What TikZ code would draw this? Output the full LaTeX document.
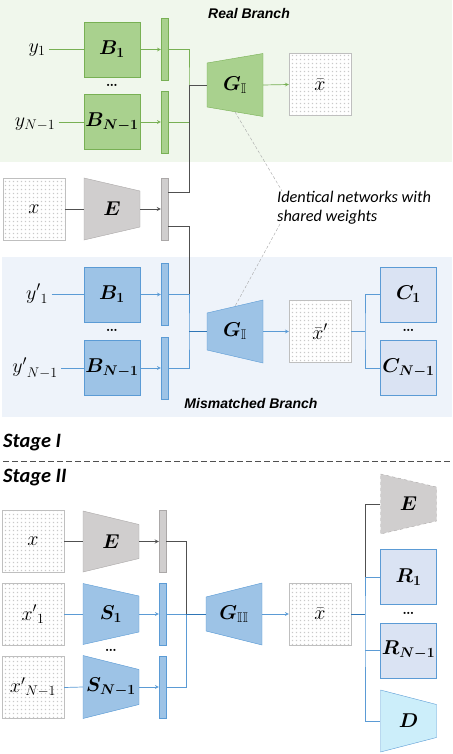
\RequirePackage{fix-cm}
\documentclass[tikz,border=0pt]{standalone}
\usepackage{amsmath,amssymb}
\usepackage{bm}
\usepackage{fontspec}
\newfontfamily\arialf{Liberation Sans}
\newfontfamily\calf{Carlito}
\usetikzlibrary{patterns,calc}

\definecolor{greenbg}{RGB}{240,247,236}
\definecolor{bluebg}{RGB}{238,243,250}
\definecolor{gfill}{RGB}{169,209,142}
\definecolor{gdraw}{RGB}{120,176,84}
\definecolor{bfill}{RGB}{157,195,230}
\definecolor{bdraw}{RGB}{91,155,213}
\definecolor{bdark}{RGB}{46,117,182}
\definecolor{kfill}{RGB}{208,206,206}
\definecolor{kdraw}{RGB}{171,168,168}
\definecolor{kdark}{RGB}{80,80,80}
\definecolor{cfill}{RGB}{218,227,243}
\definecolor{dfill}{RGB}{204,238,250}

\pgfdeclarepatternformonly{imgdots}{\pgfpointorigin}{\pgfpoint{3.5pt}{3.5pt}}{\pgfpoint{3.5pt}{3.5pt}}{%
  \pgfpathrectangle{\pgfpoint{0.9pt}{0.9pt}}{\pgfpoint{1.6pt}{1.6pt}}%
  \pgfusepath{fill}}

\tikzset{
  lab/.style={font=\fontsize{20}{22}\selectfont},
  img/.style={draw=gray!50,preaction={fill=white},pattern=imgdots,pattern color=gray!42,
    minimum width=62,minimum height=62,inner sep=0,lab},
  gbox/.style={draw=gdraw,fill=gfill,minimum width=56,minimum height=55,inner sep=0,lab},
  bbox/.style={draw=bdraw,fill=bfill,minimum width=56,minimum height=55,inner sep=0,lab},
  cbox/.style={draw=bdraw,fill=cfill,minimum width=56,minimum height=55,inner sep=0,lab},
  gbar/.style={draw=gdraw,fill=gfill,minimum width=7,minimum height=62,inner sep=0},
  bbar/.style={draw=bdraw,fill=bfill,minimum width=7,minimum height=62,inner sep=0},
  kbar/.style={draw=kdraw,fill=kfill,minimum width=7,minimum height=62,inner sep=0},
  gcon/.style={draw=gdraw,line width=0.7pt},
  bcon/.style={draw=bdraw,line width=0.7pt},
  bcon2/.style={draw=bdark,line width=1pt},
  kcon/.style={draw=kdark,line width=0.8pt},
  branch/.style={font=\arialf\bfseries\itshape\fontsize{14}{16}\selectfont},
  stage/.style={font=\calf\bfseries\itshape\fontsize{20.4}{22}\selectfont,inner sep=0},
  dots/.style={font=\bfseries\fontsize{15}{15}\selectfont,inner sep=0}
}

% trapezoid: name, x, y, left height, right height, style, label
\newcommand{\trap}[7]{%
  \draw[#6] (#2-28,#3-#4/2) -- (#2+28,#3-#5/2) -- (#2+28,#3+#5/2) -- (#2-28,#3+#4/2) -- cycle;
  \node[lab,minimum width=56,minimum height={(#4+#5)/2},inner sep=0] (#1) at (#2,#3) {#7};}

\begin{document}
\begin{tikzpicture}[x=1pt,y=-1pt,>=stealth]
\useasboundingbox (0,0) rectangle (452,754);

\fill[greenbg] (0,0) rectangle (452,162); %real panel
\fill[bluebg] (2,257) rectangle (452,417); %mismatched panel
\node[branch] (realT) at (249,13) {Real Branch};
\node[branch] (mmT) at (251,403) {Mismatched Branch};

% Stage I, real branch
\node[lab] (y1) at (37,50) {$y_1$};
\node[lab] (yN) at (35,124) {$y_{N-1}$};
\node[gbox] (B1) at (112,49.5) {$\bm{B_1}$};
\node[dots] (dotsB) at (112,85) {\dots};
\node[gbox] (BN) at (112,122) {$\bm{B_{N-1}}$};
\node[gbar] (f1) at (164.5,49.5) {};
\node[gbar] (fN) at (164.5,122) {};
\node[img] (x1) at (34,209) {$x$};
\trap{E}{112}{209}{62}{36}{draw=kdraw,fill=kfill}{$\bm{E}$}
\node[kbar] (fE) at (164.5,209) {};
\trap{G1}{235}{85}{44}{63}{draw=gdraw,fill=gfill}{$\bm{G}_{\mathbb{I}}$}
\node[img] (xr) at (320,84.5) {$\bar{x}$};
\coordinate (jr) at (189,85);

\draw[gcon] (B1.west -| y1.east) -- (B1.west);
\draw[gcon] (BN.west -| yN.east) -- (BN.west);
\draw[gcon,->] (B1.east) -- (B1.east -| f1.west);
\draw[gcon,->] (BN.east) -- (BN.east -| fN.west);
\draw[gcon] (f1.east) -| (jr) |- (fN.east);
\draw[kcon] (x1) -- (E);
\draw[kcon,->] (E) -- (fE);
\draw[kcon] ([yshift=17pt]fE.east) -| (jr) -- (G1.west);
\draw[gcon,->] (G1.east) -- (xr.west);

% Stage I, mismatched branch
\node[lab] (y1m) at (37,294) {${y'}_1$};
\node[lab] (yNm) at (35,368) {${y'}_{N-1}$};
\node[bbox] (B1m) at (112,294.5) {$\bm{B_1}$};
\node[dots] (dotsBm) at (112,330) {\dots};
\node[bbox] (BNm) at (112,368) {$\bm{B_{N-1}}$};
\node[bbar] (f1m) at (164.5,294.5) {};
\node[bbar] (fNm) at (164.5,368) {};
\trap{G2}{235}{331.5}{37}{63}{draw=bdraw,fill=bfill}{$\bm{G}_{\mathbb{I}}$}
\node[img] (xm) at (320,331.5) {$\bar{x}'$};
\node[cbox] (C1) at (408.5,294.5) {$\bm{C_1}$};
\node[dots] (dotsC) at (408.5,330) {\dots};
\node[cbox] (CN) at (408.5,368) {$\bm{C_{N-1}}$};
\coordinate (jm) at (189,331.5);
\coordinate (jc) at (365,331.5);

\draw[bcon] (B1m.west -| y1m.east) -- (B1m.west);
\draw[bcon] (BNm.west -| yNm.east) -- (BNm.west);
\draw[bcon,->] (B1m) -- (f1m);
\draw[bcon,->] (BNm) -- (fNm);
\draw[kcon] ([yshift=-17pt]fE.east) -| (f1m.east -| jm);
\draw[bcon] (f1m.east) -| (jm) |- (fNm.east);
\draw[bcon2] (jm) -- (G2.west);
\draw[bcon,->] (G2.east) -- (xm.west);
\draw[bcon] (xm.east) -- (jc);
\draw[bcon] (C1.west) -| (jc) |- (CN.west);

% shared weights note
\node[font=\calf\itshape\fontsize{16.3}{18.5}\selectfont,align=left,anchor=north west,inner sep=0] (ident) at (277,191) {Identical networks with\\shared weights};
\draw[gray!70,dash pattern=on 3pt off 2pt] (G1.south) -- ([xshift=5pt]ident.north west);
\draw[gray!70,dash pattern=on 3pt off 2pt] ([xshift=3pt]ident.south west) -- (G2.north);

% stages
\node[stage,anchor=west] (s1) at (3,443) {Stage I};
\coordinate (sepL) at (3,461);
\coordinate (sepR) at (452,461);
\draw[kdark,dash pattern=on 6pt off 3pt,line width=0.8pt] (sepL) -- (sepR);
\node[stage,anchor=west] (s2) at (3,478) {Stage II};

% Stage II
\node[img] (x2) at (33,541.5) {$x$};
\trap{E2}{111}{541.5}{61}{34}{draw=kdraw,fill=kfill}{$\bm{E}$}
\node[kbar] (fE2) at (162.5,541.5) {};
\node[img] (xp1) at (33,614) {${x'}_1$};
\trap{S1}{111}{614}{61}{36}{draw=bdraw,fill=bfill}{$\bm{S_1}$}
\node[bbar] (fS1) at (162.5,614) {};
\node[dots] (dotsS) at (111,650) {\dots};
\node[img] (xpN) at (33,687.5) {${x'}_{N-1}$};
\trap{SN}{111}{687}{63}{35}{draw=bdraw,fill=bfill}{$\bm{S_{N-1}}$}
\node[bbar] (fSN) at (162.5,687.5) {};
\trap{G3}{234}{614}{34}{62}{draw=bdraw,fill=bfill}{$\bm{G}_{\mathbb{I}\mathbb{I}}$}
\node[img] (xo) at (320,614) {$\bar{x}$};
\trap{Eo}{408.5}{504}{60}{34}{draw=kdraw,dashed,fill=kfill}{$\bm{E}$}
\node[cbox] (R1) at (408.5,577) {$\bm{R_1}$};
\node[dots] (dotsR) at (408.5,613) {\dots};
\node[cbox] (RN) at (408.5,650.5) {$\bm{R_{N-1}}$};
\trap{D}{408.5}{721}{62}{33}{draw=bdraw,fill=dfill}{$\bm{D}$}
\coordinate (jII) at (186,614);
\coordinate (jo) at (365,614);

\draw[kcon] (x2) -- (E2);
\draw[kcon,->] (E2) -- (fE2);
\draw[bcon] (xp1) -- (S1);
\draw[bcon,->] (S1) -- (fS1);
\draw[bcon] (xpN.east) -- (SN.west);
\draw[bcon,->] (SN.east) -- (SN.east -| fSN.west);
\draw[kcon] (fE2.east) -| (jII);
\draw[bcon] (fS1.east) -- (jII);
\draw[bcon] (fSN.east) -| (jII);
\draw[bcon2] (jII) -- (G3.west);
\draw[bcon,->] (G3.east) -- (xo.west);
\draw[kcon] (Eo.west) -| (R1.west -| jo);
\draw[bcon] (R1.west) -| (jo) |- (D.west);
\draw[bcon] (RN.west) -- (RN.west -| jo);
\draw[bcon2] (xo.east) -- (jo);
\end{tikzpicture}
\end{document}
